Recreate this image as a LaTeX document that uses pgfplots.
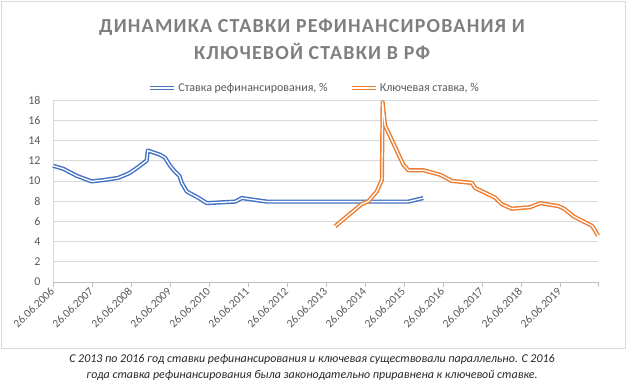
\documentclass[border=0pt]{standalone}
\usepackage{fontspec}
\setmainfont{Carlito}
\newfontfamily\titlefont{Carlito}[LetterSpace=6]
\usepackage{pgfplots}
\usepackage{pgfplotstable}
\pgfplotsset{compat=1.18}
\definecolor{c1}{HTML}{4472C4}
\definecolor{c2}{HTML}{ED7D31}
\definecolor{gridc}{HTML}{D9D9D9}
\definecolor{axc}{HTML}{BFBFBF}
\definecolor{txt}{HTML}{595959}
\definecolor{ttl}{HTML}{7F7F7F}
\definecolor{cap}{HTML}{262626}

% t = years since 26.06.2006
\pgfplotstableread{
t v
0 11.5
0.26 11.2
0.61 10.5
0.99 9.95
1.33 10.1
1.67 10.3
1.95 10.75
2.16 11.3
2.40 12.0
2.43 13.0
2.74 12.6
2.87 12.3
3.00 11.5
3.13 10.9
3.24 10.5
3.30 9.8
3.43 8.95
3.74 8.3
3.94 7.8
4.67 7.95
4.84 8.3
5.48 7.95
9.11 7.95
9.49 8.3
}\refin

\pgfplotstableread{
t v
7.23 5.5
7.91 7.7
8.08 7.97
8.30 8.96
8.43 10.1
8.45 17.8
8.51 15.5
8.98 11.6
9.11 11.05
9.50 11.05
9.93 10.6
10.22 10.0
10.74 9.8
10.82 9.3
11.33 8.35
11.50 7.7
11.76 7.25
12.23 7.4
12.49 7.8
12.96 7.5
13.10 7.25
13.34 6.5
13.82 5.55
13.97 4.6
}\keyrate

\begin{document}
\begin{tikzpicture}
\draw[gridc, line width=0.75bp] (1bp,-1bp) rectangle (625bp,-348bp);
\begin{axis}[
  at={(53bp,-282bp)}, anchor=south west,
  scale only axis, width=545bp, height=182bp,
  xmin=0, xmax=13.97, ymin=0, ymax=18,
  clip=false,
  axis x line*=bottom, axis y line*=left,
  x axis line style={-, draw=axc, line width=0.75bp},
  y axis line style={-, draw=gridc, line width=0.75bp},
  xtick={0,...,13},
  xticklabels={26.06.2006,26.06.2007,26.06.2008,26.06.2009,26.06.2010,26.06.2011,26.06.2012,26.06.2013,26.06.2014,26.06.2015,26.06.2016,26.06.2017,26.06.2018,26.06.2019},
  extra x ticks={13.97}, extra x tick labels={},
  extra x tick style={grid=none},
  ytick={0,2,...,18},
  ymajorgrids, grid style={gridc, line width=0.75bp},
  tick align=outside, major tick length=5bp,
  xtick style={draw=axc, line width=0.75bp},
  ytick style={draw=none},
  /pgf/number format/assume math mode=true,
  yticklabel style={font=\fontsize{12}{14}\selectfont, text=txt, xshift=-4bp},
  xticklabel style={font=\fontsize{11.5}{13}\selectfont, text=txt, rotate=45, anchor=east, yshift=-1bp, inner sep=2bp},
  legend columns=2,
  legend style={draw=none, fill=none, at={(0.48,1.066)}, anchor=center,
    font=\fontsize{12}{14}\selectfont, text=txt,
    /tikz/every even column/.append style={column sep=20bp}},
]
\addplot[draw=white, line width=1.3bp, line join=round,
  preaction={draw=c1, line width=4.2bp, line join=round},
  legend image code/.code={\draw[c1, line width=4.2bp] (0bp,0bp)--(24bp,0bp); \draw[white, line width=1.3bp] (0bp,0bp)--(24bp,0bp);}]
  table[x=t, y=v]{\refin};
\addlegendentry{Ставка рефинансирования, \%}
\addplot[draw=white, line width=1.3bp, line join=round,
  preaction={draw=c2, line width=4.2bp, line join=round},
  legend image code/.code={\draw[c2, line width=4.2bp] (0bp,0bp)--(24bp,0bp); \draw[white, line width=1.3bp] (0bp,0bp)--(24bp,0bp);}]
  table[x=t, y=v]{\keyrate};
\addlegendentry{Ключевая ставка, \%}
\end{axis}
\node[anchor=base, text=ttl, font=\titlefont\bfseries\fontsize{20}{24}\selectfont] at (312bp,-32bp) {ДИНАМИКА СТАВКИ РЕФИНАНСИРОВАНИЯ И};
\node[anchor=base, text=ttl, font=\titlefont\bfseries\fontsize{20}{24}\selectfont] at (312bp,-59bp) {КЛЮЧЕВОЙ СТАВКИ В РФ};
\node[anchor=base, text=cap, font=\itshape\fontsize{12}{14}\selectfont] at (312bp,-362bp) {С 2013 по 2016 год ставки рефинансирования и ключевая существовали параллельно. С 2016};
\node[anchor=base, text=cap, font=\itshape\fontsize{12}{14}\selectfont] at (312bp,-378bp) {года ставка рефинансирования была законодательно приравнена к ключевой ставке.};
\pgfresetboundingbox
\useasboundingbox (0bp,0bp) rectangle (626bp,-382bp);
\end{tikzpicture}
\end{document}
